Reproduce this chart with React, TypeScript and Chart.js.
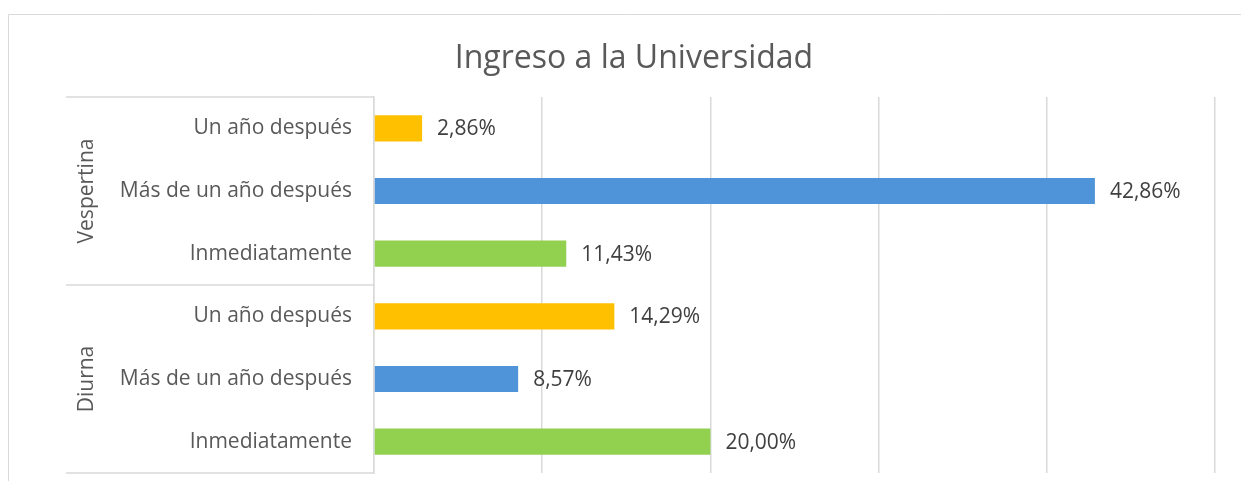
import React, { useEffect, useRef } from "react";
import { Chart, registerables } from "chart.js";

Chart.register(...registerables);

const title = "Ingreso a la Universidad";
const categories = [
  "Un año después",
  "Más de un año después",
  "Inmediatamente",
  "Un año después",
  "Más de un año después",
  "Inmediatamente",
];
const groups = ["Vespertina", "Diurna"];
const groupSize = [3, 3];
const values = [2.86, 42.86, 11.43, 14.29, 8.57, 20.0];
const barColors = ["#FFC000", "#4F94D8", "#92D050", "#FFC000", "#4F94D8", "#92D050"];
const xMax = 50;
const xStep = 10;

const FONT = "'Open Sans', 'Noto Sans', sans-serif";
const LABEL_SIZE = 21;

const decorPlugin = {
  id: "decor",
  beforeDraw(chart: any) {
    const ctx = chart.ctx;
    ctx.save();
    ctx.strokeStyle = "#d9d9d9";
    ctx.lineWidth = 1;
    ctx.beginPath();
    ctx.moveTo(0.5, chart.height);
    ctx.lineTo(0.5, 6.5);
    ctx.lineTo(chart.width, 6.5);
    ctx.stroke();
    ctx.fillStyle = "#595959";
    ctx.font = `32px ${FONT}`;
    ctx.textAlign = "center";
    ctx.textBaseline = "alphabetic";
    ctx.fillText(title, 626, 60);
    ctx.restore();
  },
  afterDraw(chart: any) {
    const ctx = chart.ctx;
    const area = chart.chartArea;
    const left = 58;
    ctx.save();
    ctx.strokeStyle = "#d9d9d9";
    ctx.lineWidth = 1.5;
    const step = (area.bottom - area.top) / categories.length;
    let idx = 0;
    const bounds = [area.top];
    groupSize.forEach((n) => {
      idx += n;
      bounds.push(area.top + idx * step);
    });
    ctx.beginPath();
    bounds.forEach((b) => {
      ctx.moveTo(left, b);
      ctx.lineTo(area.left, b);
    });
    ctx.stroke();
    ctx.fillStyle = "#595959";
    ctx.font = `${LABEL_SIZE}px ${FONT}`;
    ctx.textAlign = "center";
    ctx.textBaseline = "middle";
    groups.forEach((g, i) => {
      const cy = (bounds[i] + bounds[i + 1]) / 2;
      ctx.save();
      ctx.translate(79, cy);
      ctx.rotate(-Math.PI / 2);
      ctx.fillText(g, 0, 0);
      ctx.restore();
    });
    const meta = chart.getDatasetMeta(0);
    ctx.fillStyle = "#404040";
    ctx.textAlign = "left";
    meta.data.forEach((bar: any, i: number) => {
      const txt = values[i].toFixed(2).replace(".", ",") + "%";
      ctx.fillText(txt, bar.x + 15, bar.y + 1);
    });
    ctx.restore();
  },
};

export default function App() {
  const ref = useRef<HTMLCanvasElement>(null);
  useEffect(() => {
    if (!ref.current) return;
    const chart = new Chart(ref.current, {
      type: "bar",
      data: {
        labels: categories,
        datasets: [
          {
            data: values,
            backgroundColor: barColors,
            barPercentage: 0.417,
            categoryPercentage: 1,
          },
        ],
      },
      options: {
        indexAxis: "y",
        animation: false,
        responsive: false,
        layout: { padding: { top: 89, right: 34, bottom: 8, left: 0 } },
        plugins: {
          legend: { display: false },
          tooltip: { enabled: false },
          title: { display: false },
        },
        scales: {
          x: {
            min: 0,
            max: xMax,
            ticks: { display: false, stepSize: xStep },
            grid: { color: "#d9d9d9", lineWidth: 1.5, drawTicks: false },
            border: { display: false },
            afterFit: (s: any) => {
              s.height = 0;
              s.paddingLeft = 0;
              s.paddingRight = 0;
            },
          },
          y: {
            ticks: {
              color: "#595959",
              font: { family: FONT, size: LABEL_SIZE },
              padding: 22,
            },
            grid: { display: false, drawTicks: false },
            border: { display: true, color: "#d9d9d9", width: 1.5 },
            afterFit: (s: any) => {
              s.width = 366;
              s.paddingTop = 0;
              s.paddingBottom = 0;
            },
          },
        },
      },
      plugins: [decorPlugin],
    });
    return () => chart.destroy();
  }, []);
  return <canvas ref={ref} width={1241} height={473} style={{ display: "block" }} />;
}
